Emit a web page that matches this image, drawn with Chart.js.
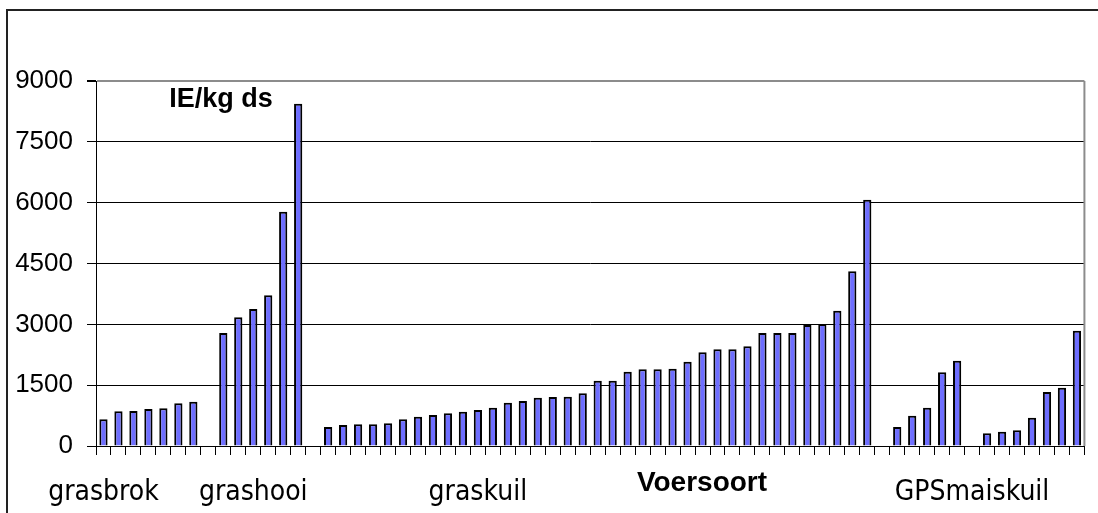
<!DOCTYPE html>
<html>
<head>
<meta charset="utf-8">
<script src="https://cdn.jsdelivr.net/npm/chart.js@4.4.1/dist/chart.umd.min.js"></script>
<style>
html, body { margin:0; padding:0; background:#fff; overflow:hidden; }
#wrap { position:relative; width:1098px; height:513px; }
</style>
</head>
<body>
<div id="wrap"><canvas id="ieChart"></canvas></div>
<script>
"use strict"
//IE per kg ds for each feed sample, grouped per feed type
var grasbrok = [658, 855, 863, 912, 929, 1052, 1093];
var grashooi = [2786, 3173, 3378, 3715, 5778, 8441];
var graskuil = [468, 518, 534, 534, 559, 658, 723, 764, 805, 847, 888, 945, 1068, 1110, 1192, 1208, 1216, 1299,
  1611, 1611, 1833, 1890, 1890, 1907, 2079, 2310, 2384, 2384, 2458, 2786, 2786, 2786, 2983, 3008, 3337, 4307, 6074];
var gpsmais = [468, 748, 945, 1816, 2104];
var maiskuil = [312, 353, 386, 699, 1331, 1438, 2844];

var groupNames = ["grasbrok", "grashooi", "graskuil", "GPSmaiskuil"];
var labelSlots = [0, 10, 25, 58];//category slot that carries the group name
var yTicks = [0, 1500, 3000, 4500, 6000, 7500, 9000];
var xTitle = "Voersoort";
var yTitle = "IE/kg ds";

//one empty slot between the groups
var values = [].concat(grasbrok, [null], grashooi, [null], graskuil, [null], gpsmais, [null], maiskuil);
var labels = values.map(function() { return ""; });
labelSlots.forEach(function(slot, i) { labels[slot] = groupNames[i]; });

var extraText = {//outer frame, right plot border and the two free titles
  id: "extraText",
  afterDraw: function(chart) {
    var c = chart.ctx, a = chart.chartArea;
    c.save();
    c.strokeStyle = "#222";
    c.lineWidth = 2;
    c.strokeRect(7, 10, 2000, 2000);
    c.strokeStyle = "#8c8c8c";
    c.beginPath();
    c.moveTo(a.right, a.top);
    c.lineTo(a.right, a.bottom);
    c.stroke();
    c.fillStyle = "#000";
    c.textAlign = "center";
    c.textBaseline = "alphabetic";
    c.font = "bold 27px 'Liberation Sans'";
    c.fillText(yTitle, a.left + 125, a.top + 26);
    c.font = "bold 28px 'Liberation Sans'";
    c.fillText(xTitle, a.left + 606, a.bottom + 45);
    c.restore();
  }
};

var ctxBar = document.getElementById("ieChart");
var ieChart = new Chart(ctxBar, {
  type: "bar",
  data: {
    labels: labels,
    datasets: [{
      data: values,
      backgroundColor: "rgb(110,110,255)",
      borderColor: "#000",
      borderWidth: 2,
      borderSkipped: "bottom",
      barPercentage: 0.55,
      categoryPercentage: 1
    }]
  },
  options: {
    responsive: true,
    maintainAspectRatio: false,
    animation: false,
    layout: { padding: { top: 81, right: 9, left: 0, bottom: 0 } },
    plugins: { legend: { display: false }, tooltip: { enabled: false } },
    scales: {
      x: {
        offset: true,
        grid: { display: true, offset: true, drawOnChartArea: false, drawTicks: true, tickLength: 9, color: "#000" },
        border: { display: true, color: "#000", width: 1 },
        ticks: {
          autoSkip: false, maxRotation: 0, minRotation: 0, padding: 21, color: "#000",
          font: { family: "'DejaVu Sans Condensed', 'DejaVu Sans'", size: 28 }
        },
        afterFit: function(scale) { scale.height = 67; }
      },
      y: {
        min: 0, max: 9000,
        afterBuildTicks: function(scale) { scale.ticks = yTicks.map(function(v) { return { value: v }; }); },
        grid: {
          color: function(c) { return c.tick && c.tick.value === 9000 ? "#8c8c8c" : "#000"; },
          lineWidth: function(c) { return c.tick && c.tick.value === 9000 ? 2 : 1; },
          tickColor: "#000", tickLength: 9, drawTicks: true
        },
        border: { display: true, color: "#000", width: 1 },
        ticks: {
          padding: 14, color: "#000", font: { family: "'Liberation Sans'", size: 26 },
          callback: function(v) { return String(v); }
        },
        afterFit: function(scale) { scale.width = 96; }
      }
    }
  },
  plugins: [extraText]
});
</script>
</body>
</html>
